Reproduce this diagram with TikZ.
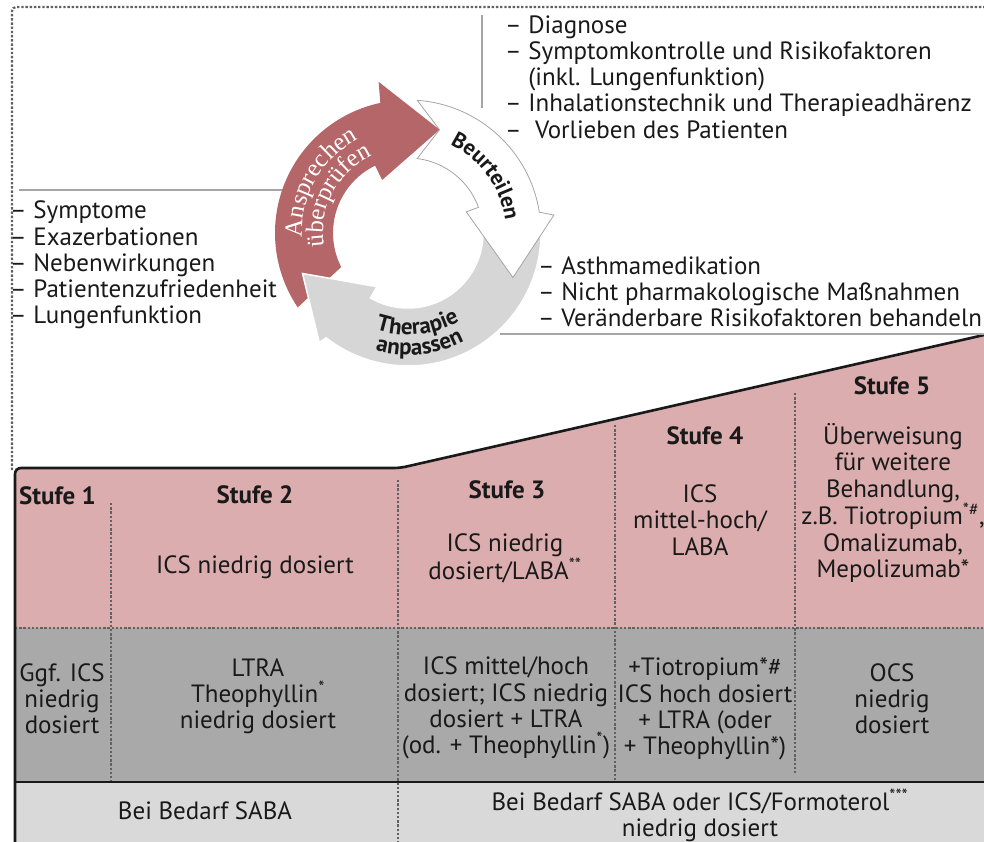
\documentclass[tikz,border=0pt]{standalone}
\usepackage{fontspec}
\setmainfont{PT Sans}
\newfontfamily\serifschrift{Liberation Serif}
\usetikzlibrary{decorations.text}

\definecolor{stufenrot}{RGB}{219,173,174}
\definecolor{reservegrau}{RGB}{169,169,169}
\definecolor{bedarfgrau}{RGB}{217,217,217}
\definecolor{pfeilrot}{RGB}{180,102,104}
\definecolor{pfeilgrau}{RGB}{214,214,214}
\definecolor{liniengrau}{RGB}{165,165,165}
\definecolor{schrift}{RGB}{25,25,25}

\tikzset{
  txt/.style={font=\fontsize{25}{26.2}\selectfont, text=schrift, inner sep=0pt, align=center},
  stufe/.style={txt, font=\fontsize{25}{26.2}\selectfont\bfseries},
  liste/.style={txt, align=left, anchor=west},
  trenner/.style={dash pattern=on 2.4pt off 1.8pt, line width=2.2pt, black!62},
  grauline/.style={liniengrau, line width=2.6pt},
  kante/.style={black!90, line width=2.6pt},
  bogentext/.style={decorate, decoration={text along path, text align=center, text={#1}}}
}

\begin{document}
\begin{tikzpicture}[x=1pt,y=-1pt]
\useasboundingbox (0,0) rectangle (984,842);

% Stufen
\fill[stufenrot] (15,468) -- (400,468) -- (984,335) -- (984,628) -- (15,628) -- cycle;
\fill[reservegrau] (15,628) rectangle (984,782);
\fill[bedarfgrau] (15,782) rectangle (984,842);
\draw[trenner] (15,628) -- (984,628);
\draw[trenner] (111,503) -- (111,782);
\draw[trenner] (398,480) -- (398,842);
\draw[trenner] (615,425) -- (615,782);
\draw[trenner] (795,393) -- (795,775);
\draw[kante, rounded corners=6pt] (15,842) -- (15,468) -- (400,468) -- (984,335);
\draw[kante] (15,782) -- (984,782);

% Rahmen und Klammern
\draw[trenner, rounded corners=4pt] (12,470) -- (12,7) -- (984,7);
\draw[grauline] (19,190) -- (285,190);
\draw[grauline] (482,15) -- (482,108);
\draw[grauline] (500,334) -- (984,334);

% Zyklus
\begin{scope}[shift={(408,233)}, y=1pt]
  \fill[pfeilrot] (214:133) arc[start angle=214, end angle=102, radius=133] -- (101:154) -- (73:108) -- (116:59) -- (116:75) arc[start angle=116, end angle=207, radius=75] -- cycle;
  \filldraw[fill=pfeilgrau, draw=white, line width=1.5pt] (0:133) arc[start angle=0, end angle=-128, radius=133] -- (231:141) -- (201:113) -- (240:62) -- (240:75) arc[start angle=240, end angle=372, radius=75] -- cycle;
  \filldraw[fill=white, draw=liniengrau, line width=0.8pt] (86:133) arc[start angle=86, end angle=9, radius=133] -- (7:147) -- (-23:114) -- (20:62) -- (20:75) arc[start angle=20, end angle=83, radius=75] -- (73:108) -- cycle;
  % Beschriftung
  \path[bogentext={|\color{white}\fontsize{25}{25}\serifschrift\selectfont|Ansprechen}] (207:106) arc[start angle=207, end angle=93, radius=106];
  \path[bogentext={|\color{white}\fontsize{25}{25}\serifschrift\selectfont|überprüfen}] (209:85) arc[start angle=209, end angle=95, radius=85];
  \path[bogentext={|\color{schrift}\fontsize{22}{22}\bfseries\selectfont|Beurteilen}] (86:98) arc[start angle=86, end angle=-14, radius=98];
  \path[bogentext={|\color{schrift}\fontsize{23}{23}\bfseries\selectfont|Therapie}] (214:102) arc[start angle=214, end angle=338, radius=102];
  \path[bogentext={|\color{schrift}\fontsize{23}{23}\bfseries\selectfont|anpassen}] (214:122) arc[start angle=214, end angle=338, radius=122];
\end{scope}

% Listen
\node[liste] (kontrolle) at (10,265) {– Symptome\\– Exazerbationen\\– Nebenwirkungen\\– Patientenzufriedenheit\\– Lungenfunktion};
\node[liste] (beurteilung) at (505,77) {– Diagnose\\– Symptomkontrolle und Risikofaktoren\\\phantom{– }(inkl. Lungenfunktion)\\– Inhalationstechnik und Therapieadhärenz\\– \ Vorlieben des Patienten};
\node[liste] (anpassung) at (538,292) {– Asthmamedikation\\– Nicht pharmakologische Maßnahmen\\– Veränderbare Risikofaktoren behandeln};

% Stufentexte
\node[stufe, anchor=west] (s1) at (19,496) {Stufe 1};
\node[stufe] (s2) at (255,495) {Stufe 2};
\node[stufe] (s3) at (507,490) {Stufe 3};
\node[stufe] (s4) at (705,436) {Stufe 4};
\node[stufe] (s5) at (892,386) {Stufe 5};

\node[txt] (ics2) at (255,567) {ICS niedrig dosiert};
\node[txt] (ics3) at (505,558) {ICS niedrig\\dosiert/LABA\textsuperscript{**}};
\node[txt] (ics4) at (700,520) {ICS\\mittel-hoch/\\LABA};
\node[txt] (ics5) at (893,503) {Überweisung\\für weitere\\Behandlung,\\z.B. Tiotropium\textsuperscript{*\#},\\Omalizumab,\\Mepolizumab*};

\node[txt] (alt1) at (62,699) {Ggf. ICS\\niedrig\\dosiert};
\node[txt] (alt2) at (258,696) {LTRA\\Theophyllin\textsuperscript{*}\\niedrig dosiert};
\node[txt] (alt3) at (506,708) {ICS mittel/hoch\\dosiert; ICS niedrig\\dosiert + LTRA\\(od. + Theophyllin\textsuperscript{*})};
\node[txt] (alt4) at (705,709) {+Tiotropium*\#\\ICS hoch dosiert\\+ LTRA (oder\\+ Theophyllin*)};
\node[txt] (alt5) at (892,699) {OCS\\niedrig\\dosiert};

\node[txt] (bedarf1) at (205,811) {Bei Bedarf SABA};
\node[txt] (bedarf2) at (700,815) {Bei Bedarf SABA oder ICS/Formoterol\textsuperscript{***}\\niedrig dosiert};
\end{tikzpicture}
\end{document}
